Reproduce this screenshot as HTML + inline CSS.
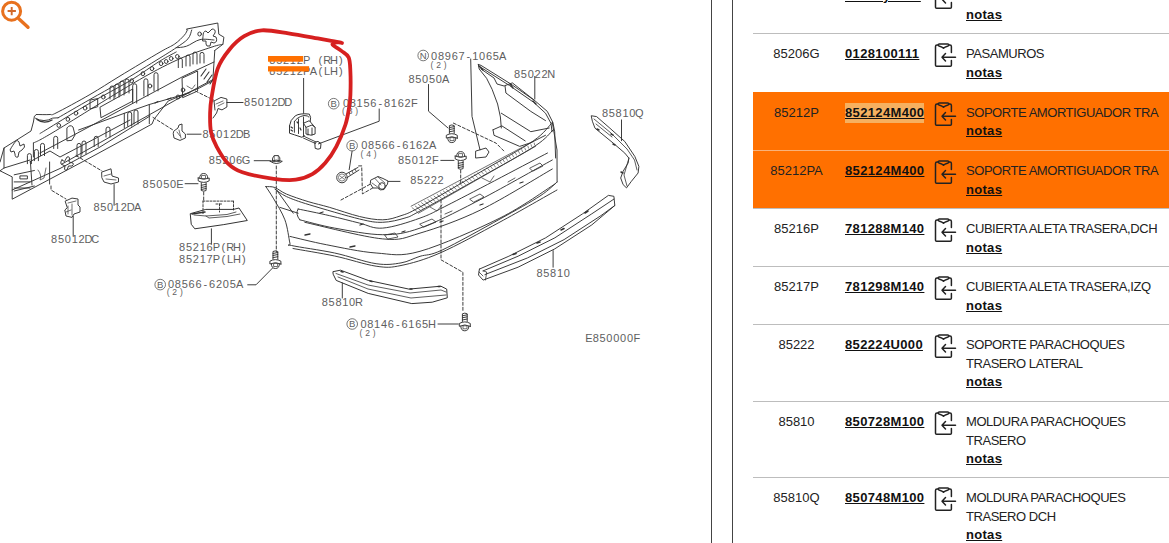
<!DOCTYPE html>
<html><head><meta charset="utf-8">
<style>
*{margin:0;padding:0;box-sizing:border-box}
html,body{width:1169px;height:543px;overflow:hidden;background:#fff}
body{position:relative;font-family:"Liberation Sans",sans-serif;color:#222}
#diag{position:absolute;left:0;top:0}
.vl{position:absolute;top:0;height:543px;width:1px;background:#444}
.row{position:absolute;left:753px;width:416px;border-top:1px solid #bdbdbd}
.row.hl{background:#ff7000;border-top:1px solid #ff7000}
.row.hl2{background:#ff7000;border-top:1px solid #f9b27a}
.c1{position:absolute;left:0;width:87px;text-align:center;font-size:13px;line-height:18.7px;color:#222}
.c2{position:absolute;left:92px;font-size:13px;font-weight:bold;line-height:18.7px;text-decoration:underline;text-decoration-thickness:1.3px;color:#111;letter-spacing:0.35px}
.c2 span{background:#f6b060;padding:2px 0 3px;margin-right:-0.35px}
.ic{position:absolute;left:179px;width:26px;height:26px}
.c3{position:absolute;left:213px;width:210px;font-size:13px;line-height:18.7px;color:#222;letter-spacing:-0.45px;white-space:nowrap}
.c3 b{display:block;letter-spacing:0.3px;text-decoration:underline;text-decoration-thickness:1.4px;color:#111}
</style></head><body>
<svg id="diag" width="711" height="543" viewBox="0 0 711 543">
<g fill="none" stroke="#e8711e" stroke-linecap="round">
<circle cx="11.6" cy="11.2" r="9" stroke-width="3"/>
<path d="M7.6 11H15.9M11.7 6.9V15.2" stroke-width="1.9" stroke="#d2692a" stroke-linecap="butt"/>
<path d="M18.8 18.8L28 27.3" stroke-width="3.4"/>
</g>
<g id="draw" fill="none" stroke="#333" stroke-width="0.95" stroke-linejoin="round" stroke-linecap="round">
<!-- ===== BEAM ===== -->
<path d="M0 162L4 148L31 131L33.4 122L34.4 116.2L36.5 114.5"/>
<path d="M36.5 114.5C38.8 114.5 46.8 114.8 50 114.5C53.2 114.2 49.3 116.3 56 113C62.7 109.7 79.3 100.7 90 94.5C100.7 88.3 108.3 83.1 120 76C131.7 68.9 150.9 57.4 160 52.1C169.1 46.8 170.6 46.8 174.7 44C178.8 41.2 182.2 37.5 184.3 35.2C186.4 32.9 186.8 30.9 187.3 30"/>
<path d="M187.3 30L186.4 29.1L217.8 23L218.8 34.2L223.9 37.2L222.9 44.3L214.8 50.4"/>
<path d="M35.5 118.3Q44 123 52.7 118.1L58.1 117.8"/>
<path d="M58.1 117.8C63.4 114.7 79.7 105.3 90 99.4C100.3 93.5 108.3 89.3 120 82.4C131.7 75.5 150.6 63.8 160 58C169.4 52.2 171.5 50.9 176.2 47.7C180.9 44.5 185.4 41.8 188 38.8C190.6 35.8 191.1 31.5 191.7 30"/>
<path d="M37 119.5Q44 124.5 52 120" stroke-width="1.4"/>
<path d="M0 170.8L12.2 176.9V199.2L90 157.8L140 130.6L152 124L154 119.3L168.2 101L199.6 87.9L212.8 80.8L214.8 50.4"/>
<path d="M4 148V168M0 170.8L4 168L30 160"/>
<path d="M33.4 143V157"/>
<path d="M33.4 143C36.5 141.3 35.6 142.8 52 133C68.4 123.2 111.2 96.2 132 84C152.8 71.8 163.7 66.2 177 60C190.3 53.8 204.3 49.6 212 47C219.7 44.4 221.1 44.8 222.9 44.3"/>
<path d="M40 133.5C41.7 132.5 41.7 132.5 50 127.4C58.3 122.3 76.7 110.8 90 103.1C103.3 95.4 117.9 88.0 129.6 81C141.3 74.0 152.2 65.8 160 61C167.8 56.2 173.5 53.5 176.2 52"/>
<path d="M176.2 47.7C177.9 47.5 182.5 47.6 186.5 46.2C190.5 44.9 195.4 40.6 200 39.6C204.6 38.6 211.7 39.9 214 40"/>
<path d="M40 153L100 121L140 99.5L182 77L214 62"/>
<path d="M62 164L100.1 142.6L140 120L200 86.4L214 79"/>
<path d="M12.2 190L60 168.5L100 147L150 116"/>
<path d="M30 161.7L50 151L60 157L100 136L130 120"/>
<path d="M49.6 162V184M30.4 161.7L32 185"/>
<path d="M14.2 174.8L34.4 170.5M14.2 191L34.4 186"/>
<path d="M20.3 175.9H27.4V178.9H20.3Z"/>
<path d="M14.2 181.9H30M14.2 188H30"/>
<path d="M38 170Q42 175 40 180L44 178L46 168" stroke-width="0.7"/>
<!-- crosses -->
<path d="M13 145Q17 138 19 142L20 146L24 144Q26 147 22 150L19 152L18 157Q15 158 15 154L14 151L11 152Q9 150 11 148Z"/>
<path d="M62 160L64.5 161.5L67 157Q69 156 69.5 158L69 162L73 163Q74 165 72 166L68.5 166L67 170Q65 171 64.5 169L65 166L61 164Q60 162 62 160Z"/>
<path d="M203 36Q203 31 206 31L208 33L212 29Q216 29 215 33L213 36L216 37Q218 42 214 43L211 42L210 46Q206 47 206 44L206 41L203 41Z"/>
<!-- slots/rects -->
<path d="M100.3 107L132.7 89V101.1L101.3 117.5Z"/>
<path d="M182.4 78L197.6 71V91L183 97.5Z"/>
<path d="M187 86L192 89L195 85" stroke-width="0.7"/>
<path d="M201 76L206 69M204 79L209 72M207 82L212 75M210 84L214 78" stroke-width="1.1"/>
<path d="M155 103L158 101.5M167 99.5L171 98" stroke-width="1.2"/>
<path d="M78.6 130L124.3 113.3L149.3 104.5L190 92.7M149.3 104.5V123.6M124.3 113.3V128"/>
<path d="M90.4 100L97.7 98.6V106.7L90.4 108.9Z"/>
<ellipse cx="58.8" cy="125.4" rx="1.8" ry="2"/><ellipse cx="67.9" cy="119.3" rx="1.8" ry="2"/><ellipse cx="76" cy="113.2" rx="1.8" ry="2"/><ellipse cx="85.1" cy="108.1" rx="1.8" ry="2"/><ellipse cx="103.3" cy="97" rx="1.8" ry="2"/><ellipse cx="131.7" cy="80.8" rx="1.8" ry="2"/><ellipse cx="142.9" cy="73.7" rx="1.8" ry="2"/><ellipse cx="152" cy="68.6" rx="1.8" ry="2"/><ellipse cx="161.1" cy="63.6" rx="1.8" ry="2"/><ellipse cx="166.2" cy="61.5" rx="1.8" ry="2"/><ellipse cx="171.2" cy="58.5" rx="1.8" ry="2"/><ellipse cx="177.3" cy="56.5" rx="1.8" ry="2"/><ellipse cx="199.6" cy="34" rx="1.8" ry="2"/><ellipse cx="150" cy="86" rx="1.8" ry="2"/><ellipse cx="178" cy="97" rx="1.8" ry="2"/><ellipse cx="183" cy="90" rx="1.8" ry="2"/>
<path d="M132.7 103.1V85.8A2.0 2.0 0 0 1 136.7 85.8V103.1" />
<path d="M143.9 96.0V80.8A2.0 2.0 0 0 1 147.9 80.8V96.0" />
<path d="M154.0 90.9V74.7A2.0 2.0 0 0 1 158.0 74.7V90.9" />
<path d="M110.0 99.0V88.0A2.0 2.0 0 0 1 114.0 88.0V99.0" />
<path d="M115.0 97.0V86.0A2.0 2.0 0 0 1 119.0 86.0V97.0" />
<path d="M120.0 95.0V83.0A2.0 2.0 0 0 1 124.0 83.0V95.0" />
<path d="M125.0 93.0V81.0A2.0 2.0 0 0 1 129.0 81.0V93.0" />
<path d="M178.3 67.6V60.0A2.0 2.0 0 0 1 182.3 60.0V67.6" />
<path d="M186.0 66.0V57.0A2.0 2.0 0 0 1 190.0 57.0V66.0" />
<path d="M193.0 64.0V54.0A2.0 2.0 0 0 1 197.0 54.0V64.0" />
<path d="M200.0 63.0V54.4A2.0 2.0 0 0 1 204.0 54.4V63.0" />
<path d="M27.4 163.7V155.6A2.0 2.0 0 0 1 31.4 155.6V163.7" />
<path d="M34.4 160.7V151.5A2.0 2.0 0 0 1 38.4 151.5V160.7" />
<path d="M40.5 155.6V145.4A2.0 2.0 0 0 1 44.5 145.4V155.6" />
<path d="M53.7 148.5V138.3A2.0 2.0 0 0 1 57.7 138.3V148.5" />
<path d="M77.0 156.6V145.4A2.0 2.0 0 0 1 81.0 145.4V156.6" />
<path d="M82.0 154.0V143.0A2.0 2.0 0 0 1 86.0 143.0V154.0" />
<path d="M94.2 146.5V138.3A2.0 2.0 0 0 1 98.2 138.3V146.5" />
<path d="M127.7 126.2V114.0A2.0 2.0 0 0 1 131.7 114.0V126.2" />
<path d="M134.0 124.0V112.0A2.0 2.0 0 0 1 138.0 112.0V124.0" />
<path d="M106.0 137.0V129.0A2.0 2.0 0 0 1 110.0 129.0V137.0" />
<path d="M66.9 140.4V128Q70 124 73 127L75 135L72 140Z"/>
<!-- ===== brackets on left ===== -->
<path d="M51 186V190L66 199" stroke-dasharray="3 2"/>
<path d="M65.5 201L72 198.1L78 199V205L80 207V212L74 214L72 217.4L66 216L64.8 210L67 208Z"/>
<path d="M68 203L76 201M68 206V214M72 204V215M66 212L71 210" stroke-width="0.7"/>
<path d="M73.2 216.3V235.7"/>
<path d="M76 155.5L102 171" stroke-dasharray="3 2"/>
<path d="M102 172L111 168.8L112 176L118.5 178V182L111 184L104 182L102 178Z"/>
<path d="M104 176L111 174M106 179L116 180" stroke-width="0.7"/>
<path d="M114.1 184.5V205.3"/>
<path d="M153 117.4L173 130" stroke-dasharray="3 2"/>
<path d="M174 131L178 128L179 125L182 124L182 131L185.4 134V138L180 140.4L174 138L173.3 134Z"/>
<path d="M177 132L180 136M179 130L181 138" stroke-width="0.7"/>
<path d="M187.1 134.2H201.1"/>
<path d="M195.4 91L213.5 100" stroke-dasharray="3 2"/>
<path d="M214 101L221 97.4L226.9 99V107L222 109.9L218 108.5L216.6 113L213 118M214 101L215 110"/>
<path d="M216 104L223 101M218 106L224 103" stroke-width="0.7"/>
<path d="M226.9 102.5H243.1"/>
<!-- ===== 85212P bracket ===== -->
<path d="M303.6 78.4V113.3"/>
<path d="M289.5 125.7Q290 120 295.3 115.8Q300 113 309.3 114.1L310.6 117.4L310.2 121.6" stroke-width="1"/>
<path d="M289.5 125.7V133.2L294.4 134.8L301.9 137.3L304.4 135.7" stroke-width="1"/>
<path d="M294.4 121.6Q297 117 304 115.5Q308 115.5 309 117M294.4 121.6V132.3M298.5 119V133.5M303.5 117V136.5"/>
<path d="M303.5 123.2L309.3 120.7L315.1 127.4V134L311 135.2L306 134V127.4L303.5 123.2M306 127.4L312 125L315.1 127.4M308 129V135M312 128V135"/>
<path d="M291 127L292.5 128M291 130L292.5 131M297 122L298 123M300 128L301 130" stroke-width="1.2"/>
<path d="M303.5 138.1L315.5 143.5M304.5 136.5L316 142" stroke-width="0.9"/>
<path d="M315.1 142Q318 140 321 143.5L320.5 148.5Q318 150 315.5 148.5Z" stroke-width="1"/>
<path d="M318.4 143.9L379.2 121.2V109"/>
<!-- 85206G nut + dashed -->
<g transform="translate(276.3 154.8) rotate(0) scale(1.0)"><path d="M-3.5 3L-2 0.8H2L3.5 3V6.5H-3.5Z"/><path d="M-2 0.8V6.5M2 0.8V6.5" stroke-width="0.6"/><path d="M-6 6.5Q0 11 6 6.5Q0 4 -6 6.5Z"/></g>
<path d="M254.2 160.7H270.4"/>
<path d="M276.3 166V252" stroke-dasharray="3 2"/>
<g transform="translate(275.4 269) rotate(180) scale(1.0)"><path d="M-4 5Q-4 0.5 0 0.5Q4 0.5 4 5"/><path d="M-5.5 5V7.8Q0 11 5.5 7.8V5Q0 7.8 -5.5 5Z"/><path d="M-1.8 2.5H1.8V5.5H-1.8Z" stroke-width="0.7"/><path d="M-2.4 9.8V17.5Q0 18.8 2.4 17.5V9.8M-2.4 12.3L2.4 11.3M-2.4 14.5L2.4 13.5M-2.4 16.5L2.4 15.5"/></g>
<path d="M247.7 284.8H256L272.6 268"/>
<!-- 85050E bolt -->
<g transform="translate(203.7 173) rotate(0) scale(1.0)"><path d="M-4 5Q-4 0.5 0 0.5Q4 0.5 4 5"/><path d="M-5.5 5V7.8Q0 11 5.5 7.8V5Q0 7.8 -5.5 5Z"/><path d="M-1.8 2.5H1.8V5.5H-1.8Z" stroke-width="0.7"/><path d="M-2.4 9.8V17.5Q0 18.8 2.4 17.5V9.8M-2.4 12.3L2.4 11.3M-2.4 14.5L2.4 13.5M-2.4 16.5L2.4 15.5"/></g>
<path d="M185.1 183.7H198"/>
<path d="M203.7 192V201" stroke-dasharray="3 2"/>
<!-- 85216P corner -->
<path d="M190.6 213.6L205.8 209.4L233.5 209.4L239 208L247.3 220.5L223.8 224.6L194.8 228.8L191.5 224.6Z" stroke-width="1"/>
<path d="M194 215L206 216L227 214.5L236 212M206 216L209 218L227 216.5L240 214" stroke-width="0.8"/>
<path d="M192 214L205 212" stroke-width="1.5"/>
<path d="M203 201.1V214M233.5 201.1V210M203 201.1H233.5M216 204H222M219.5 204V212" stroke-dasharray="2 1.5"/>
<path d="M211.4 228.8V244"/>
<!-- ===== BUMPER ===== -->
<path d="M265.8 186.6C267.3 186.8 271.4 186.2 274.9 187.5C278.3 188.8 281.0 191.8 286.5 194.1C292.0 196.4 300.9 199.4 308.1 201.6C315.3 203.8 321.1 204.9 329.7 207.4C338.3 209.9 350.7 214.4 359.5 216.5C368.3 218.6 375.8 219.9 382.7 219.8C389.6 219.7 394.8 217.8 401 215.7C407.2 213.6 406.8 214.3 420 207C433.2 199.7 461.6 183.0 480.5 172C499.4 161.0 521.2 149.3 533.2 141C545.2 132.7 549.1 125.5 552.3 122.4"/>
<path d="M274.9 189.1C276.8 190.3 280.7 194.0 286.5 196.6C292.3 199.2 297.6 201.2 309.8 204.9C322.0 208.6 347.4 216.1 359.5 219C371.6 221.9 375.1 222.5 382.7 222.3C390.3 222.1 398.8 219.9 405 218C411.2 216.1 407.3 217.8 420 211C432.7 204.2 461.8 187.8 481 177C500.2 166.2 523.0 153.8 535 146C547.0 138.2 550.0 132.7 553 130"/>
<path d="M298.1 209C303.4 210.1 319.5 213.3 329.7 215.7C339.9 218.0 350.7 221.0 359.5 223.1C368.3 225.2 372.6 228.9 382.7 228.1C392.8 227.3 408.5 222.3 420 218.1C431.5 213.9 430.6 213.8 451.8 203C473.1 192.2 531.5 161.3 547.5 153"/>
<path d="M299.8 219.8C305.6 221.2 320.8 225.6 334.6 228.1C348.4 230.6 368.5 234.7 382.7 234.7C396.9 234.7 404.5 233.5 420 228.1C435.5 222.7 453.6 213.3 475.7 202C497.8 190.7 539.5 167.0 552.3 160"/>
<path d="M304.8 222.3C317.8 225.1 363.5 237.1 382.7 238.9C401.9 240.7 403.7 237.9 420 233.1C436.3 228.3 458.4 220.7 480.5 210C502.6 199.3 540.3 175.8 552.3 169"/>
<path d="M289.9 236.4C296.0 237.8 311.9 241.9 326.3 244.7C340.7 247.5 360.5 251.9 376.1 253C391.7 254.1 399.4 257.1 420 251.3C440.6 245.5 477.5 229.2 500 218C522.5 206.8 545.8 189.7 555 184"/>
<path d="M265.8 186.6C267.1 188.5 270.1 192.7 273.3 198.2C276.5 203.7 282.1 212.3 284.9 219.8C287.7 227.3 288.8 238.7 289.9 243C291.0 247.3 284.1 243.8 291.5 245.5C298.9 247.2 320.5 250.0 334.6 253C348.7 256.0 365.0 262.1 376.1 263.7C387.2 265.3 393.7 264.1 401 262.9C408.3 261.7 413.1 258.4 420 256.3C426.9 254.2 428.9 256.2 442.2 250C455.5 243.8 483.7 228.0 500 219C516.3 210.0 530.5 202.2 540 196C549.5 189.8 554.2 184.3 557.1 182"/>
<path d="M293 248.5C299.9 249.8 320.8 253.1 334.6 256C348.5 258.9 365.0 264.6 376.1 266.2C387.2 267.8 390.4 267.7 401 265.5C411.6 263.3 423.5 260.2 440 253C456.5 245.8 480.5 232.5 500 222C519.5 211.5 547.5 195.3 557 190"/>
<path d="M557.1 182L557 150L552.3 122.4"/>
<path d="M276.6 190L293.2 213.2M279.9 207.4L298.1 213.2M298.1 209Q295 214 299.8 219.8"/>
<path d="M411.1 206.2L533.2 141.5M418.3 213.3L535.6 146.3" stroke-width="0.7"/>
<path d="M412.1 207.7L417.3 211.8M415.2 206.0L420.3 210.1M418.4 204.4L423.3 208.4M421.5 202.7L426.3 206.6M424.6 201.1L429.3 204.9M427.8 199.4L432.3 203.2M430.9 197.7L435.3 201.5M434.0 196.1L438.4 199.8M437.1 194.4L441.4 198.1M440.3 192.8L444.4 196.3M443.4 191.1L447.4 194.6M446.5 189.5L450.4 192.9M449.7 187.8L453.4 191.2M452.8 186.1L456.4 189.5M455.9 184.5L459.4 187.7M459.1 182.8L462.4 186.0M462.2 181.2L465.4 184.3M465.3 179.5L468.4 182.6M468.5 177.8L471.4 180.9M471.6 176.2L474.4 179.2M474.7 174.5L477.5 177.4M477.8 172.9L480.5 175.7M481.0 171.2L483.5 174.0M484.1 169.5L486.5 172.3M487.2 167.9L489.5 170.6M490.4 166.2L492.5 168.9M493.5 164.6L495.5 167.1M496.6 162.9L498.5 165.4M499.8 161.2L501.5 163.7M502.9 159.6L504.5 162.0M506.0 157.9L507.5 160.3M509.2 156.3L510.5 158.5M512.3 154.6L513.5 156.8M515.4 153.0L516.6 155.1M518.5 151.3L519.6 153.4M521.7 149.6L522.6 151.7M524.8 148.0L525.6 150.0M527.9 146.3L528.6 148.2M531.1 144.7L531.6 146.5M534.2 143.0L534.6 144.8" stroke-width="0.6"/>
<path d="M385 235L395 233L398 237L388 239ZM420 224L432 219L436 222L424 227ZM445 214L452 211M470 199L480 194L484 197L474 202ZM508 182L515 178M530 168L540 163L543 166L533 171Z" stroke-width="0.8"/>
<path d="M320 213L323 212M360 225L363 224M402 232L405 231M440 222L443 221M480 205L483 204M520 183L523 182M305 235L310 234M350 247L355 246" stroke-width="1.3"/>
<path d="M430 207L437 211L442 205M482 178L490 182L494 176" stroke-width="0.7"/>
<!-- wing 85022N -->
<path d="M478.3 64.4L481 65.4L510.5 83.8L534.5 100.4L547.3 111.4L552.9 122.5L554.7 131.7L555.6 158"/>
<path d="M479.2 66.3L509.6 85.6L533.5 102.2L545.5 113.2L551 123.4L552 131.7"/>
<path d="M478.3 64.4L479.2 69L486.6 78.3L492.1 89.3L497.6 104L500.4 117L501.3 128"/>
<path d="M481 69L494 78L497 84L504 86"/>
<path d="M505 85.6L512.4 82.9L534.5 100.4"/>
<path d="M505 85.6L505.9 93L530.8 111.4L545.5 120.6"/>
<path d="M493 129.8L494 135.3L519.7 146.4L530.8 142.7L545.5 135.3"/>
<path d="M493 129.8L501.5 126"/>
<path d="M501.3 113.2L530.8 131.7L549.2 128"/>
<path d="M502.2 126.1L525.2 140.9"/>
<path d="M479 66L483 70M510 84L513 88M533 101L536 104" stroke-width="1.3"/>
<path d="M534.8 76.4V99"/>
<path d="M470.7 59L472 116.4L480 149.8"/>
<path d="M476 151L486 148L489 152L486 157L476 158Z"/>
<path d="M453.4 123.1L496 143.1L504 151.1" stroke-dasharray="3 2"/>
<!-- dashed to 85222 etc -->
<path d="M341 200L371.3 183.6" stroke-dasharray="3 2"/>
<path d="M358.7 165.9H361.7L362.4 193.9L372.7 188" stroke-dasharray="3 2"/>
<path d="M441 200V230" stroke-dasharray="3 2"/>
<path d="M441 230V259.8L462.9 272.3V312" stroke-dasharray="3 2"/>
<g transform="translate(464.8 331.3) rotate(180) scale(1.0)"><path d="M-4 5Q-4 0.5 0 0.5Q4 0.5 4 5"/><path d="M-5.5 5V7.8Q0 11 5.5 7.8V5Q0 7.8 -5.5 5Z"/><path d="M-1.8 2.5H1.8V5.5H-1.8Z" stroke-width="0.7"/><path d="M-2.4 9.8V17.5Q0 18.8 2.4 17.5V9.8M-2.4 12.3L2.4 11.3M-2.4 14.5L2.4 13.5M-2.4 16.5L2.4 15.5"/></g>
<path d="M438 324H458.3"/>
<!-- 85810R molding -->
<path d="M333.3 271.6L340.5 270.2L368.2 280.4L408.9 289.1L440.9 286.2L446.7 289.1L447.3 297.8L432.2 302.2L411.8 303.6L368.2 293.4L336.2 280.4L333.3 274.5Z" stroke-width="1"/>
<path d="M336 273.5L368 285L410 293L441 290L446 292M338 277L368 289L411 298L446 295" stroke-width="0.8"/>
<path d="M341 271.5L343 272M370 281L372 281.5M410 289L412 289M438 286.5L440 286.5" stroke-width="1.5"/>
<path d="M342.3 283V298"/>
<!-- 85810 bar -->
<path d="M479.4 269.1L508.9 256.2L545.7 237.8L582.6 213.8L608.4 195.4L613.9 196.3L614.8 205.5L591.8 224.9L554.9 248.8L518.1 267.2L483.1 280.1L478.5 275L479.4 269.1"/>
<path d="M483.1 270.9L518.1 256.2L554.9 237.8L591.8 213.8L613.9 199.1"/>
<path d="M484.9 274.6L527.3 258L564.1 239.6L601 215.6L614.8 205.5"/>
<path d="M483.1 270.9L486.7 272L485.5 280M479 272L483 276" stroke-width="0.8"/>
<path d="M513 254.5L516 253.5M537 243L540 242M561 230L564 228.5M585 213L588 211" stroke-width="1.6"/>
<path d="M553.1 250.6V267.2"/>
<!-- 85810Q strip -->
<path d="M591.6 115.8L596.6 116.6L609.9 128.2L624.8 141.5L634.8 156.4L638.9 166.4L638.1 173L631.4 181.3L626.5 187.9L623.1 184.6L620.7 178L623.1 171.3L628.1 163L628.9 158.1L624.8 153.1L613.2 143.1L595 128.2L592.5 121.6Z"/>
<path d="M594 119L611 133L627 149L634.5 160L637 170M629 158L624 175L627 186M596 124L612 137" stroke-width="0.8"/>
<path d="M597 129L599 130M611 134L613 135M613 144L615 145M621 172L623 173" stroke-width="1.5"/>
<path d="M621.5 119.9V140.7"/>
<!-- 85222 clip, 08566 bolt -->
<path d="M371 180L378 176.5L383 178.5L388 181L387.5 184L384 189.5Q380 191 377.5 188L373 188L370.5 184Z"/>
<path d="M375 178.5L381 185M378 177L385 183M372 183L379 188" stroke-width="0.7"/>
<circle cx="382" cy="186" r="3.3"/>
<path d="M388.2 181.4H400"/>
<circle cx="342" cy="177.5" r="5.3"/><circle cx="342" cy="177.5" r="3.6" stroke-width="0.6"/>
<path d="M340 176L344 179M344 176L340 179" stroke-width="0.6"/>
<path d="M346 174L358 167.4M348 177L359 170" />
<path d="M349 172.5L350 174.5M352 171L353 173M355 169L356 171" stroke-width="0.8"/>
<path d="M352.1 151L349.2 169.6"/>
<!-- 85050A bolt, 85012F -->
<path d="M428.5 84.5V111.2L448 128"/>
<g transform="translate(451.8 143.1) rotate(180) scale(1.0)"><path d="M-4 5Q-4 0.5 0 0.5Q4 0.5 4 5"/><path d="M-5.5 5V7.8Q0 11 5.5 7.8V5Q0 7.8 -5.5 5Z"/><path d="M-1.8 2.5H1.8V5.5H-1.8Z" stroke-width="0.7"/><path d="M-2.4 9.8V17.5Q0 18.8 2.4 17.5V9.8M-2.4 12.3L2.4 11.3M-2.4 14.5L2.4 13.5M-2.4 16.5L2.4 15.5"/></g>
<path d="M440.8 160.4H454"/>
<g transform="translate(460.7 151.1) rotate(0) scale(1.0)"><path d="M-4 5Q-4 0.5 0 0.5Q4 0.5 4 5"/><path d="M-5.5 5V7.8Q0 11 5.5 7.8V5Q0 7.8 -5.5 5Z"/><path d="M-1.8 2.5H1.8V5.5H-1.8Z" stroke-width="0.7"/><path d="M-2.4 9.8V17.5Q0 18.8 2.4 17.5V9.8M-2.4 12.3L2.4 11.3M-2.4 14.5L2.4 13.5M-2.4 16.5L2.4 15.5"/></g>
<path d="M460.7 170V183" stroke-dasharray="3 2"/>
</g>
<g font-family="Liberation Sans" fill="#5e5e5e" stroke="none">
<text x="269.30 276.15 283.00 289.85 296.70 302.94 311.93 318.48 323.19 330.04 339.03" y="63.9" font-size="11">85212P (RH)</text>
<text x="269.30 276.15 283.00 289.85 296.70 302.94 309.79 318.48 324.10 330.04 339.03" y="74.8" font-size="11">85212PA(LH)</text>
<text x="244.10 250.95 257.80 264.65 271.50 277.44 284.29" y="105.5" font-size="11">85012DD</text>
<text x="202.50 209.35 216.20 223.05 229.90 235.84 242.99" y="137.5" font-size="11">85012DB</text>
<text x="208.70 215.55 222.40 229.25 236.10 241.73" y="163.7" font-size="11">85206G</text>
<text x="142.60 149.45 156.30 163.15 170.00 176.24" y="187.9" font-size="11">85050E</text>
<text x="93.40 100.25 107.10 113.95 120.80 126.74 133.89" y="211.4" font-size="11">85012DA</text>
<text x="51.10 57.95 64.80 71.65 78.50 84.44 91.29" y="243.4" font-size="11">85012DC</text>
<text x="179.10 185.95 192.80 199.65 206.50 212.74 221.43 226.14 232.99 241.98" y="251.4" font-size="11">85216P(RH)</text>
<text x="179.10 185.95 192.80 199.65 206.50 212.74 221.43 227.05 232.99 241.98" y="262.5" font-size="11">85217P(LH)</text>
<text x="168.00 174.85 181.70 188.55 195.40 203.48 209.10 215.95 222.80 229.65 235.89" y="287.6" font-size="11">08566-6205A</text>
<text x="342.90 349.75 356.60 363.45 370.30 378.38 384.00 390.85 397.70 404.55 411.10" y="107.2" font-size="11">08156-8162F</text>
<text x="361.20 368.05 374.90 381.75 388.60 396.68 402.30 409.15 416.00 422.85 429.09" y="149.2" font-size="11">08566-6162A</text>
<text x="398.00 404.85 411.70 418.55 425.40 431.95" y="164.1" font-size="11">85012F</text>
<text x="410.20 417.05 423.90 430.75 437.60" y="184.2" font-size="11">85222</text>
<text x="431.10 437.95 444.80 451.65 458.50 466.58 472.20 479.05 485.90 492.75 498.99" y="59.6" font-size="11">08967-1065A</text>
<text x="408.40 415.25 422.10 428.95 435.80 442.04" y="82.7" font-size="11">85050A</text>
<text x="514.00 520.85 527.70 534.55 541.40 547.34" y="77.8" font-size="11">85022N</text>
<text x="601.90 608.75 615.60 622.45 629.30 634.93" y="117.4" font-size="11">85810Q</text>
<text x="536.40 543.25 550.10 556.95 563.80" y="276.6" font-size="11">85810</text>
<text x="321.70 328.55 335.40 342.25 349.10 355.04" y="306.0" font-size="11">85810R</text>
<text x="360.40 367.25 374.10 380.95 387.80 395.88 401.50 408.35 415.20 422.05 427.99" y="327.5" font-size="11">08146-6165H</text>
<text x="585.20 592.66 599.51 606.36 613.21 620.06 626.91 633.46" y="342.0" font-size="11">E850000F</text>
<text x="166.71 172.37 179.91" y="295.1" font-size="8.5">(2)</text>
<text x="342.11 347.77 355.31" y="114.2" font-size="8.5">(8)</text>
<text x="360.51 366.17 373.71" y="157.1" font-size="8.5">(4)</text>
<text x="430.51 436.17 443.71" y="68.0" font-size="8.5">(2)</text>
<text x="359.61 365.27 372.81" y="336.2" font-size="8.5">(2)</text>
<text x="160.2" y="288.0" font-size="9.5" text-anchor="middle">B</text>
<text x="333.7" y="107.10000000000001" font-size="9.5" text-anchor="middle">B</text>
<text x="352.1" y="149.1" font-size="9.5" text-anchor="middle">B</text>
<text x="423.2" y="58.9" font-size="9.5" text-anchor="middle">N</text>
<text x="352.2" y="327.4" font-size="9.5" text-anchor="middle">B</text>
</g>
<g fill="none" stroke="#555" stroke-width="0.8"><circle cx="160.2" cy="284.6" r="5.3"/><circle cx="333.7" cy="103.7" r="5.3"/><circle cx="352.1" cy="145.7" r="5.3"/><circle cx="423.2" cy="55.5" r="5.3"/><circle cx="352.2" cy="324.0" r="5.3"/></g>

<rect x="268" y="56" width="35" height="5.7" fill="#ff7000"/>
<rect x="268" y="66.2" width="41.1" height="5.3" fill="#ff7000"/>
<path d="M338.4 42.1C337.4 42.5 332.0 42.8 332.5 44.3C333.0 45.8 338.7 48.7 341.4 50.9C344.1 53.1 347.2 54.0 348.7 57.5C350.2 61.0 350.1 65.8 350.4 72C350.7 78.2 350.6 89.2 350.4 95C350.2 100.8 350.0 102.1 349.2 107C348.4 111.9 347.6 117.9 345.5 124.5C343.4 131.1 339.7 140.2 336.3 146.6C332.9 153.0 329.2 158.5 325.2 163.1C321.2 167.7 317.2 171.4 312.3 174.2C307.4 177.0 302.2 178.9 295.8 179.7C289.4 180.5 282.6 180.0 273.7 178.8C264.8 177.6 250.1 174.9 242.4 172.3C234.7 169.7 231.9 167.4 227.6 163.1C223.3 158.8 219.4 151.8 216.6 146.6C213.8 141.4 212.1 137.3 211 131.8C209.9 126.3 210.0 119.0 210.1 113.4C210.2 107.8 210.2 105.5 211.5 98C212.8 90.5 214.7 76.7 217.7 68.6C220.7 60.5 225.1 54.9 229.5 49.5C233.9 44.1 238.8 39.4 244.2 36.2C249.6 33.0 254.5 30.8 261.9 30.3C269.3 29.8 279.1 31.9 288.4 33.3C297.7 34.6 309.5 36.9 317.8 38.4C326.1 39.9 334.4 41.3 338.4 42.1C342.4 42.9 341.4 42.9 342 43" fill="none" stroke="#d62020" stroke-width="3.8" stroke-linecap="round" stroke-linejoin="round"/>
</svg>
<div class="vl" style="left:711px"></div>
<div class="vl" style="left:732px"></div>
<div class="row " style="top:-25px;height:58px"><div class="c1" style="top:11px"></div><div class="c2" style="top:11px">85xxxyxxxx</div><svg class="ic" viewBox="0 0 26 26" style="top:9px"><g fill="none" stroke="#222" stroke-width="1.5" stroke-linecap="round" stroke-linejoin="round"><path d="M19.4 9.6V3.4Q19.4 2 18 2H16.8M6.2 2H5Q3.5 2 3.5 3.4V22.2Q3.5 23.2 4.6 23.2H18.3Q19.4 23.2 19.4 22.2V17.4"/><path d="M6.2 2Q6.2 1 7.2 1H15.8Q16.8 1 16.8 2Q16.8 3 15.4 3.3Q12.8 4 11.5 5.3Q10.2 4 7.6 3.3Q6.2 3 6.2 2Z"/><path d="M10 14.2H23.5M13.5 10.5L10 14.2L13.5 17.9"/></g></svg><div class="c3" style="top:11px"><div>XXXXXXX</div><b>notas</b></div></div>
<div class="row " style="top:33px;height:59px"><div class="c1" style="top:11px">85206G</div><div class="c2" style="top:11px">0128100111</div><svg class="ic" viewBox="0 0 26 26" style="top:9px"><g fill="none" stroke="#222" stroke-width="1.5" stroke-linecap="round" stroke-linejoin="round"><path d="M19.4 9.6V3.4Q19.4 2 18 2H16.8M6.2 2H5Q3.5 2 3.5 3.4V22.2Q3.5 23.2 4.6 23.2H18.3Q19.4 23.2 19.4 22.2V17.4"/><path d="M6.2 2Q6.2 1 7.2 1H15.8Q16.8 1 16.8 2Q16.8 3 15.4 3.3Q12.8 4 11.5 5.3Q10.2 4 7.6 3.3Q6.2 3 6.2 2Z"/><path d="M10 14.2H23.5M13.5 10.5L10 14.2L13.5 17.9"/></g></svg><div class="c3" style="top:11px"><div>PASAMUROS</div><b>notas</b></div></div>
<div class="row hl" style="top:91.7px;height:58.3px"><div class="c1" style="top:11px">85212P</div><div class="c2" style="top:11px"><span>852124M400</span></div><svg class="ic" viewBox="0 0 26 26" style="top:9px"><g fill="none" stroke="#222" stroke-width="1.5" stroke-linecap="round" stroke-linejoin="round"><path d="M19.4 9.6V3.4Q19.4 2 18 2H16.8M6.2 2H5Q3.5 2 3.5 3.4V22.2Q3.5 23.2 4.6 23.2H18.3Q19.4 23.2 19.4 22.2V17.4"/><path d="M6.2 2Q6.2 1 7.2 1H15.8Q16.8 1 16.8 2Q16.8 3 15.4 3.3Q12.8 4 11.5 5.3Q10.2 4 7.6 3.3Q6.2 3 6.2 2Z"/><path d="M10 14.2H23.5M13.5 10.5L10 14.2L13.5 17.9"/></g></svg><div class="c3" style="top:11px"><div>SOPORTE AMORTIGUADOR TRA</div><b>notas</b></div></div>
<div class="row hl2" style="top:150px;height:57.5px"><div class="c1" style="top:11px">85212PA</div><div class="c2" style="top:11px">852124M400</div><svg class="ic" viewBox="0 0 26 26" style="top:9px"><g fill="none" stroke="#222" stroke-width="1.5" stroke-linecap="round" stroke-linejoin="round"><path d="M19.4 9.6V3.4Q19.4 2 18 2H16.8M6.2 2H5Q3.5 2 3.5 3.4V22.2Q3.5 23.2 4.6 23.2H18.3Q19.4 23.2 19.4 22.2V17.4"/><path d="M6.2 2Q6.2 1 7.2 1H15.8Q16.8 1 16.8 2Q16.8 3 15.4 3.3Q12.8 4 11.5 5.3Q10.2 4 7.6 3.3Q6.2 3 6.2 2Z"/><path d="M10 14.2H23.5M13.5 10.5L10 14.2L13.5 17.9"/></g></svg><div class="c3" style="top:11px"><div>SOPORTE AMORTIGUADOR TRA</div><b>notas</b></div></div>
<div class="row " style="top:208px;height:58px"><div class="c1" style="top:11px">85216P</div><div class="c2" style="top:11px">781288M140</div><svg class="ic" viewBox="0 0 26 26" style="top:9px"><g fill="none" stroke="#222" stroke-width="1.5" stroke-linecap="round" stroke-linejoin="round"><path d="M19.4 9.6V3.4Q19.4 2 18 2H16.8M6.2 2H5Q3.5 2 3.5 3.4V22.2Q3.5 23.2 4.6 23.2H18.3Q19.4 23.2 19.4 22.2V17.4"/><path d="M6.2 2Q6.2 1 7.2 1H15.8Q16.8 1 16.8 2Q16.8 3 15.4 3.3Q12.8 4 11.5 5.3Q10.2 4 7.6 3.3Q6.2 3 6.2 2Z"/><path d="M10 14.2H23.5M13.5 10.5L10 14.2L13.5 17.9"/></g></svg><div class="c3" style="top:11px"><div>CUBIERTA ALETA TRASERA,DCH</div><b>notas</b></div></div>
<div class="row " style="top:266px;height:58px"><div class="c1" style="top:11px">85217P</div><div class="c2" style="top:11px">781298M140</div><svg class="ic" viewBox="0 0 26 26" style="top:9px"><g fill="none" stroke="#222" stroke-width="1.5" stroke-linecap="round" stroke-linejoin="round"><path d="M19.4 9.6V3.4Q19.4 2 18 2H16.8M6.2 2H5Q3.5 2 3.5 3.4V22.2Q3.5 23.2 4.6 23.2H18.3Q19.4 23.2 19.4 22.2V17.4"/><path d="M6.2 2Q6.2 1 7.2 1H15.8Q16.8 1 16.8 2Q16.8 3 15.4 3.3Q12.8 4 11.5 5.3Q10.2 4 7.6 3.3Q6.2 3 6.2 2Z"/><path d="M10 14.2H23.5M13.5 10.5L10 14.2L13.5 17.9"/></g></svg><div class="c3" style="top:11px"><div>CUBIERTA ALETA TRASERA,IZQ</div><b>notas</b></div></div>
<div class="row " style="top:324px;height:77px"><div class="c1" style="top:11px">85222</div><div class="c2" style="top:11px">852224U000</div><svg class="ic" viewBox="0 0 26 26" style="top:9px"><g fill="none" stroke="#222" stroke-width="1.5" stroke-linecap="round" stroke-linejoin="round"><path d="M19.4 9.6V3.4Q19.4 2 18 2H16.8M6.2 2H5Q3.5 2 3.5 3.4V22.2Q3.5 23.2 4.6 23.2H18.3Q19.4 23.2 19.4 22.2V17.4"/><path d="M6.2 2Q6.2 1 7.2 1H15.8Q16.8 1 16.8 2Q16.8 3 15.4 3.3Q12.8 4 11.5 5.3Q10.2 4 7.6 3.3Q6.2 3 6.2 2Z"/><path d="M10 14.2H23.5M13.5 10.5L10 14.2L13.5 17.9"/></g></svg><div class="c3" style="top:11px"><div>SOPORTE PARACHOQUES</div><div>TRASERO LATERAL</div><b>notas</b></div></div>
<div class="row " style="top:401px;height:76px"><div class="c1" style="top:11px">85810</div><div class="c2" style="top:11px">850728M100</div><svg class="ic" viewBox="0 0 26 26" style="top:9px"><g fill="none" stroke="#222" stroke-width="1.5" stroke-linecap="round" stroke-linejoin="round"><path d="M19.4 9.6V3.4Q19.4 2 18 2H16.8M6.2 2H5Q3.5 2 3.5 3.4V22.2Q3.5 23.2 4.6 23.2H18.3Q19.4 23.2 19.4 22.2V17.4"/><path d="M6.2 2Q6.2 1 7.2 1H15.8Q16.8 1 16.8 2Q16.8 3 15.4 3.3Q12.8 4 11.5 5.3Q10.2 4 7.6 3.3Q6.2 3 6.2 2Z"/><path d="M10 14.2H23.5M13.5 10.5L10 14.2L13.5 17.9"/></g></svg><div class="c3" style="top:11px"><div>MOLDURA PARACHOQUES</div><div>TRASERO</div><b>notas</b></div></div>
<div class="row " style="top:477px;height:80px"><div class="c1" style="top:11px">85810Q</div><div class="c2" style="top:11px">850748M100</div><svg class="ic" viewBox="0 0 26 26" style="top:9px"><g fill="none" stroke="#222" stroke-width="1.5" stroke-linecap="round" stroke-linejoin="round"><path d="M19.4 9.6V3.4Q19.4 2 18 2H16.8M6.2 2H5Q3.5 2 3.5 3.4V22.2Q3.5 23.2 4.6 23.2H18.3Q19.4 23.2 19.4 22.2V17.4"/><path d="M6.2 2Q6.2 1 7.2 1H15.8Q16.8 1 16.8 2Q16.8 3 15.4 3.3Q12.8 4 11.5 5.3Q10.2 4 7.6 3.3Q6.2 3 6.2 2Z"/><path d="M10 14.2H23.5M13.5 10.5L10 14.2L13.5 17.9"/></g></svg><div class="c3" style="top:11px"><div>MOLDURA PARACHOQUES</div><div>TRASERO DCH</div><b>notas</b></div></div>
</body></html>
